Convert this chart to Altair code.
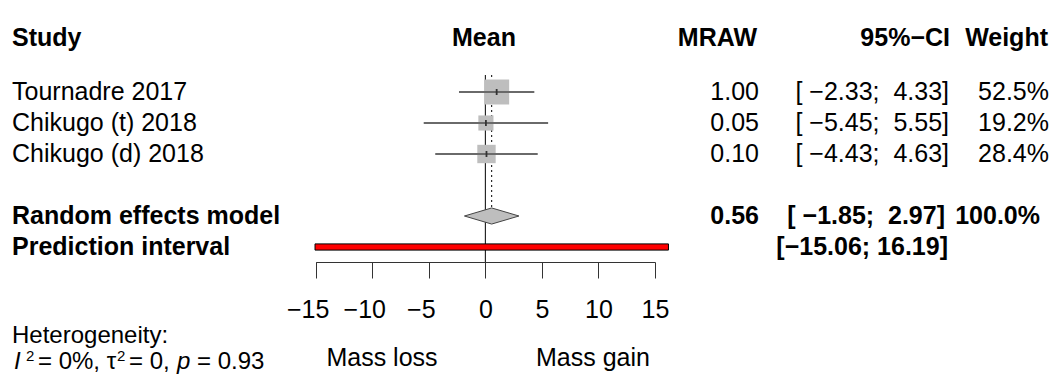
import altair as alt
import pandas as pd

# ---- data ----
studies = ["Tournadre 2017", "Chikugo (t) 2018", "Chikugo (d) 2018"]
means = [1.00, 0.05, 0.10]
lowers = [-2.33, -5.45, -4.43]
uppers = [4.33, 5.55, 4.63]
weights = [52.5, 19.2, 28.4]
study_rows = [1, 2, 3]

re_label = "Random effects model"
re_mean, re_lower, re_upper, re_weight = 0.56, -1.85, 2.97, 100.0
re_row = 5
pi_label = "Prediction interval"
pi_lower, pi_upper = -15.06, 16.19
pi_row = 6

x_ticks = [-15, -10, -5, 0, 5, 10, 15]
headers = ["Study", "Mean", "MRAW", "95%−CI", "Weight"]
het_title = "Heterogeneity:"
het_i2, het_tau2, het_p = "0%", "0", "0.93"
left_label, right_label = "Mass loss", "Mass gain"

FONT = "Liberation Sans"
FS = 25
NB = "\u00a0"


def m(s):
    return s.replace("-", "−")


def ci_pad(lo, hi):
    # padded like R's formatCI (aligned to the prediction-interval width)
    return m(f"[{NB}{lo:.2f};{NB}{NB}{hi:.2f}]")


studies_df = pd.DataFrame({
    "study": studies, "mean": means, "lower": lowers, "upper": uppers,
    "weight": weights, "row": study_rows,
    "mtxt": [f"{v:.2f}" for v in means],
    "citxt": [ci_pad(a, b) for a, b in zip(lowers, uppers)],
    "wtxt": [f"{w:.1f}%" for w in weights],
})

X = alt.Scale(domain=[-15, 15], range=[315.7, 655], nice=False, zero=False, clamp=False)
Y = alt.Scale(domain=[1, 6], range=[92, 247], nice=False, zero=False)
SZ = alt.Scale(domain=[0, 52.5], range=[0, 625])
AX = alt.Axis(values=x_ticks, title=None, grid=False, tickSize=16, tickColor="#333",
              domainColor="#333", tickWidth=1, domainWidth=1, labelFontSize=FS,
              labelFont=FONT, labelColor="black", labelPadding=19, labelFlush=False,
              labelOffset={"condition": {"test": "datum.value < 0", "value": -8}, "value": 0})


def xq(field):
    return alt.X(field, type="quantitative", scale=X, axis=AX)


def yq(field):
    return alt.Y(field, type="quantitative", scale=Y, axis=None)


# reference lines
ref0 = alt.Chart(pd.DataFrame({"v": [0.0]})).mark_rule(color="black", strokeWidth=1).encode(
    x=xq("v:Q"), y=alt.value(75), y2=alt.value(262))
refre = alt.Chart(pd.DataFrame({"v": [re_mean]})).mark_rule(
    color="black", strokeWidth=1, strokeDash=[2, 3]).encode(
    x=xq("v:Q"), y=alt.value(75), y2=alt.value(207))

base = alt.Chart(studies_df)
squares = base.mark_square(color="#bebebe", opacity=1).encode(
    x=xq("mean:Q"), y=yq("row:Q"),
    size=alt.Size("weight:Q", scale=SZ, legend=None))
cis = base.mark_rule(color="#6a6a6a", strokeWidth=2).encode(
    x=xq("lower:Q"), x2="upper:Q", y=yq("row:Q"))
dots = base.mark_point(shape="M-0.3,-1L0.3,-1L0.3,1L-0.3,1Z", filled=True,
                       color="#333", size=36, opacity=1).encode(
    x=xq("mean:Q"), y=yq("row:Q"))

# diamond
H = 0.26
diamond_df = pd.DataFrame({"x": [re_lower, re_mean, re_upper],
                           "y": [re_row, re_row - H, re_row],
                           "y2": [re_row, re_row + H, re_row]})
diamond = alt.Chart(diamond_df).mark_area(
    orient="vertical", fill="#bebebe", stroke="#444", strokeWidth=1, opacity=1).encode(
    x=xq("x:Q"), y=yq("y:Q"), y2="y2:Q")

# prediction interval
PH = 0.1
pi_df = pd.DataFrame({"lo": [pi_lower], "hi": [pi_upper],
                      "y": [pi_row - PH], "y2": [pi_row + PH]})
pi = alt.Chart(pi_df).mark_rect(fill="red", stroke="black", strokeWidth=1).encode(
    x=xq("lo:Q"), x2="hi:Q", y=yq("y:Q"), y2="y2:Q")


def txt(df, field, xpx, align="left", bold=False, ypx=None, size=FS, italic=False, baseline="middle"):
    mk = alt.Chart(df).mark_text(align=align, baseline=baseline, font=FONT, fontSize=size,
                                 fontWeight="bold" if bold else "normal",
                                 fontStyle="italic" if italic else "normal", color="black")
    enc = {"x": alt.value(xpx), "text": alt.Text(f"{field}:N")}
    enc["y"] = alt.value(ypx) if ypx is not None else yq("row:Q")
    return mk.encode(**enc)


# study texts
t_study = txt(studies_df, "study", 12)
t_mean = txt(studies_df, "mtxt", 759, align="right")
t_ci = txt(studies_df, "citxt", 949, align="right")
t_w = txt(studies_df, "wtxt", 1049, align="right")

re_df = pd.DataFrame({"row": [re_row], "lab": [re_label], "mtxt": [f"{re_mean:.2f}"],
                      "citxt": [ci_pad(re_lower, re_upper)],
                      "wtxt": [f"{re_weight:.1f}%"]})
t_re = txt(re_df, "lab", 12, bold=True)
t_re_m = txt(re_df, "mtxt", 759, align="right", bold=True)
t_re_ci = txt(re_df, "citxt", 945, align="right", bold=True)
t_re_w = txt(re_df, "wtxt", 1040, align="right", bold=True)

pi_tdf = pd.DataFrame({"row": [pi_row], "lab": [pi_label],
                       "citxt": [m(f"[{pi_lower:.2f}; {pi_upper:.2f}]")]})
t_pi = txt(pi_tdf, "lab", 12, bold=True)
t_pi_ci = txt(pi_tdf, "citxt", 948, align="right", bold=True)

hdr = pd.DataFrame({"h": headers})
h_layers = []
for i, (xp, al) in enumerate([(12, "left"), (484, "center"), (757, "right"),
                              (950, "right"), (1048, "right")]):
    h_layers.append(txt(hdr.iloc[[i]], "h", xp, align=al, bold=True, ypx=38))

# bottom labels
bl = pd.DataFrame({"t": [left_label]})
br = pd.DataFrame({"t": [right_label]})
t_left = txt(bl, "t", 382, align="center", ypx=366, baseline="alphabetic")
t_right = txt(br, "t", 593, align="center", ypx=366, baseline="alphabetic")

HFS = 24
SUP = 15
het1 = txt(pd.DataFrame({"t": [het_title]}), "t", 12, ypx=343, size=HFS, baseline="alphabetic")
het_I = txt(pd.DataFrame({"t": ["I"]}), "t", 14, ypx=369, size=HFS, italic=True, baseline="alphabetic")
het_sup1 = txt(pd.DataFrame({"t": ["2"]}), "t", 26, ypx=361, size=SUP, baseline="alphabetic")
het_mid = txt(pd.DataFrame({"t": [f"= {het_i2}, τ"]}), "t", 38, ypx=369, size=HFS, baseline="alphabetic")
het_sup2 = txt(pd.DataFrame({"t": ["2"]}), "t", 117, ypx=361, size=SUP, baseline="alphabetic")
het_mid2 = txt(pd.DataFrame({"t": [f"= {het_tau2},"]}), "t", 129, ypx=369, size=HFS, baseline="alphabetic")
het_p_l = txt(pd.DataFrame({"t": ["p"]}), "t", 177, ypx=369, size=HFS, italic=True, baseline="alphabetic")
het_end = txt(pd.DataFrame({"t": [f"= {het_p}"]}), "t", 197, ypx=369, size=HFS, baseline="alphabetic")

chart = alt.layer(
    ref0, refre, squares, cis, dots, diamond, pi,
    t_study, t_mean, t_ci, t_w, t_re, t_re_m, t_re_ci, t_re_w, t_pi, t_pi_ci,
    *h_layers, t_left, t_right,
    het1, het_I, het_sup1, het_mid, het_sup2, het_mid2, het_p_l, het_end,
).properties(
    width=1054, height=262,
    autosize=alt.AutoSizeParams(type="none"),
    padding={"left": 0, "top": 0, "right": 0, "bottom": 114},
    background="white",
).configure_view(strokeWidth=0)

chart.save("out.html", embed_options={"renderer": "svg", "actions": False})
